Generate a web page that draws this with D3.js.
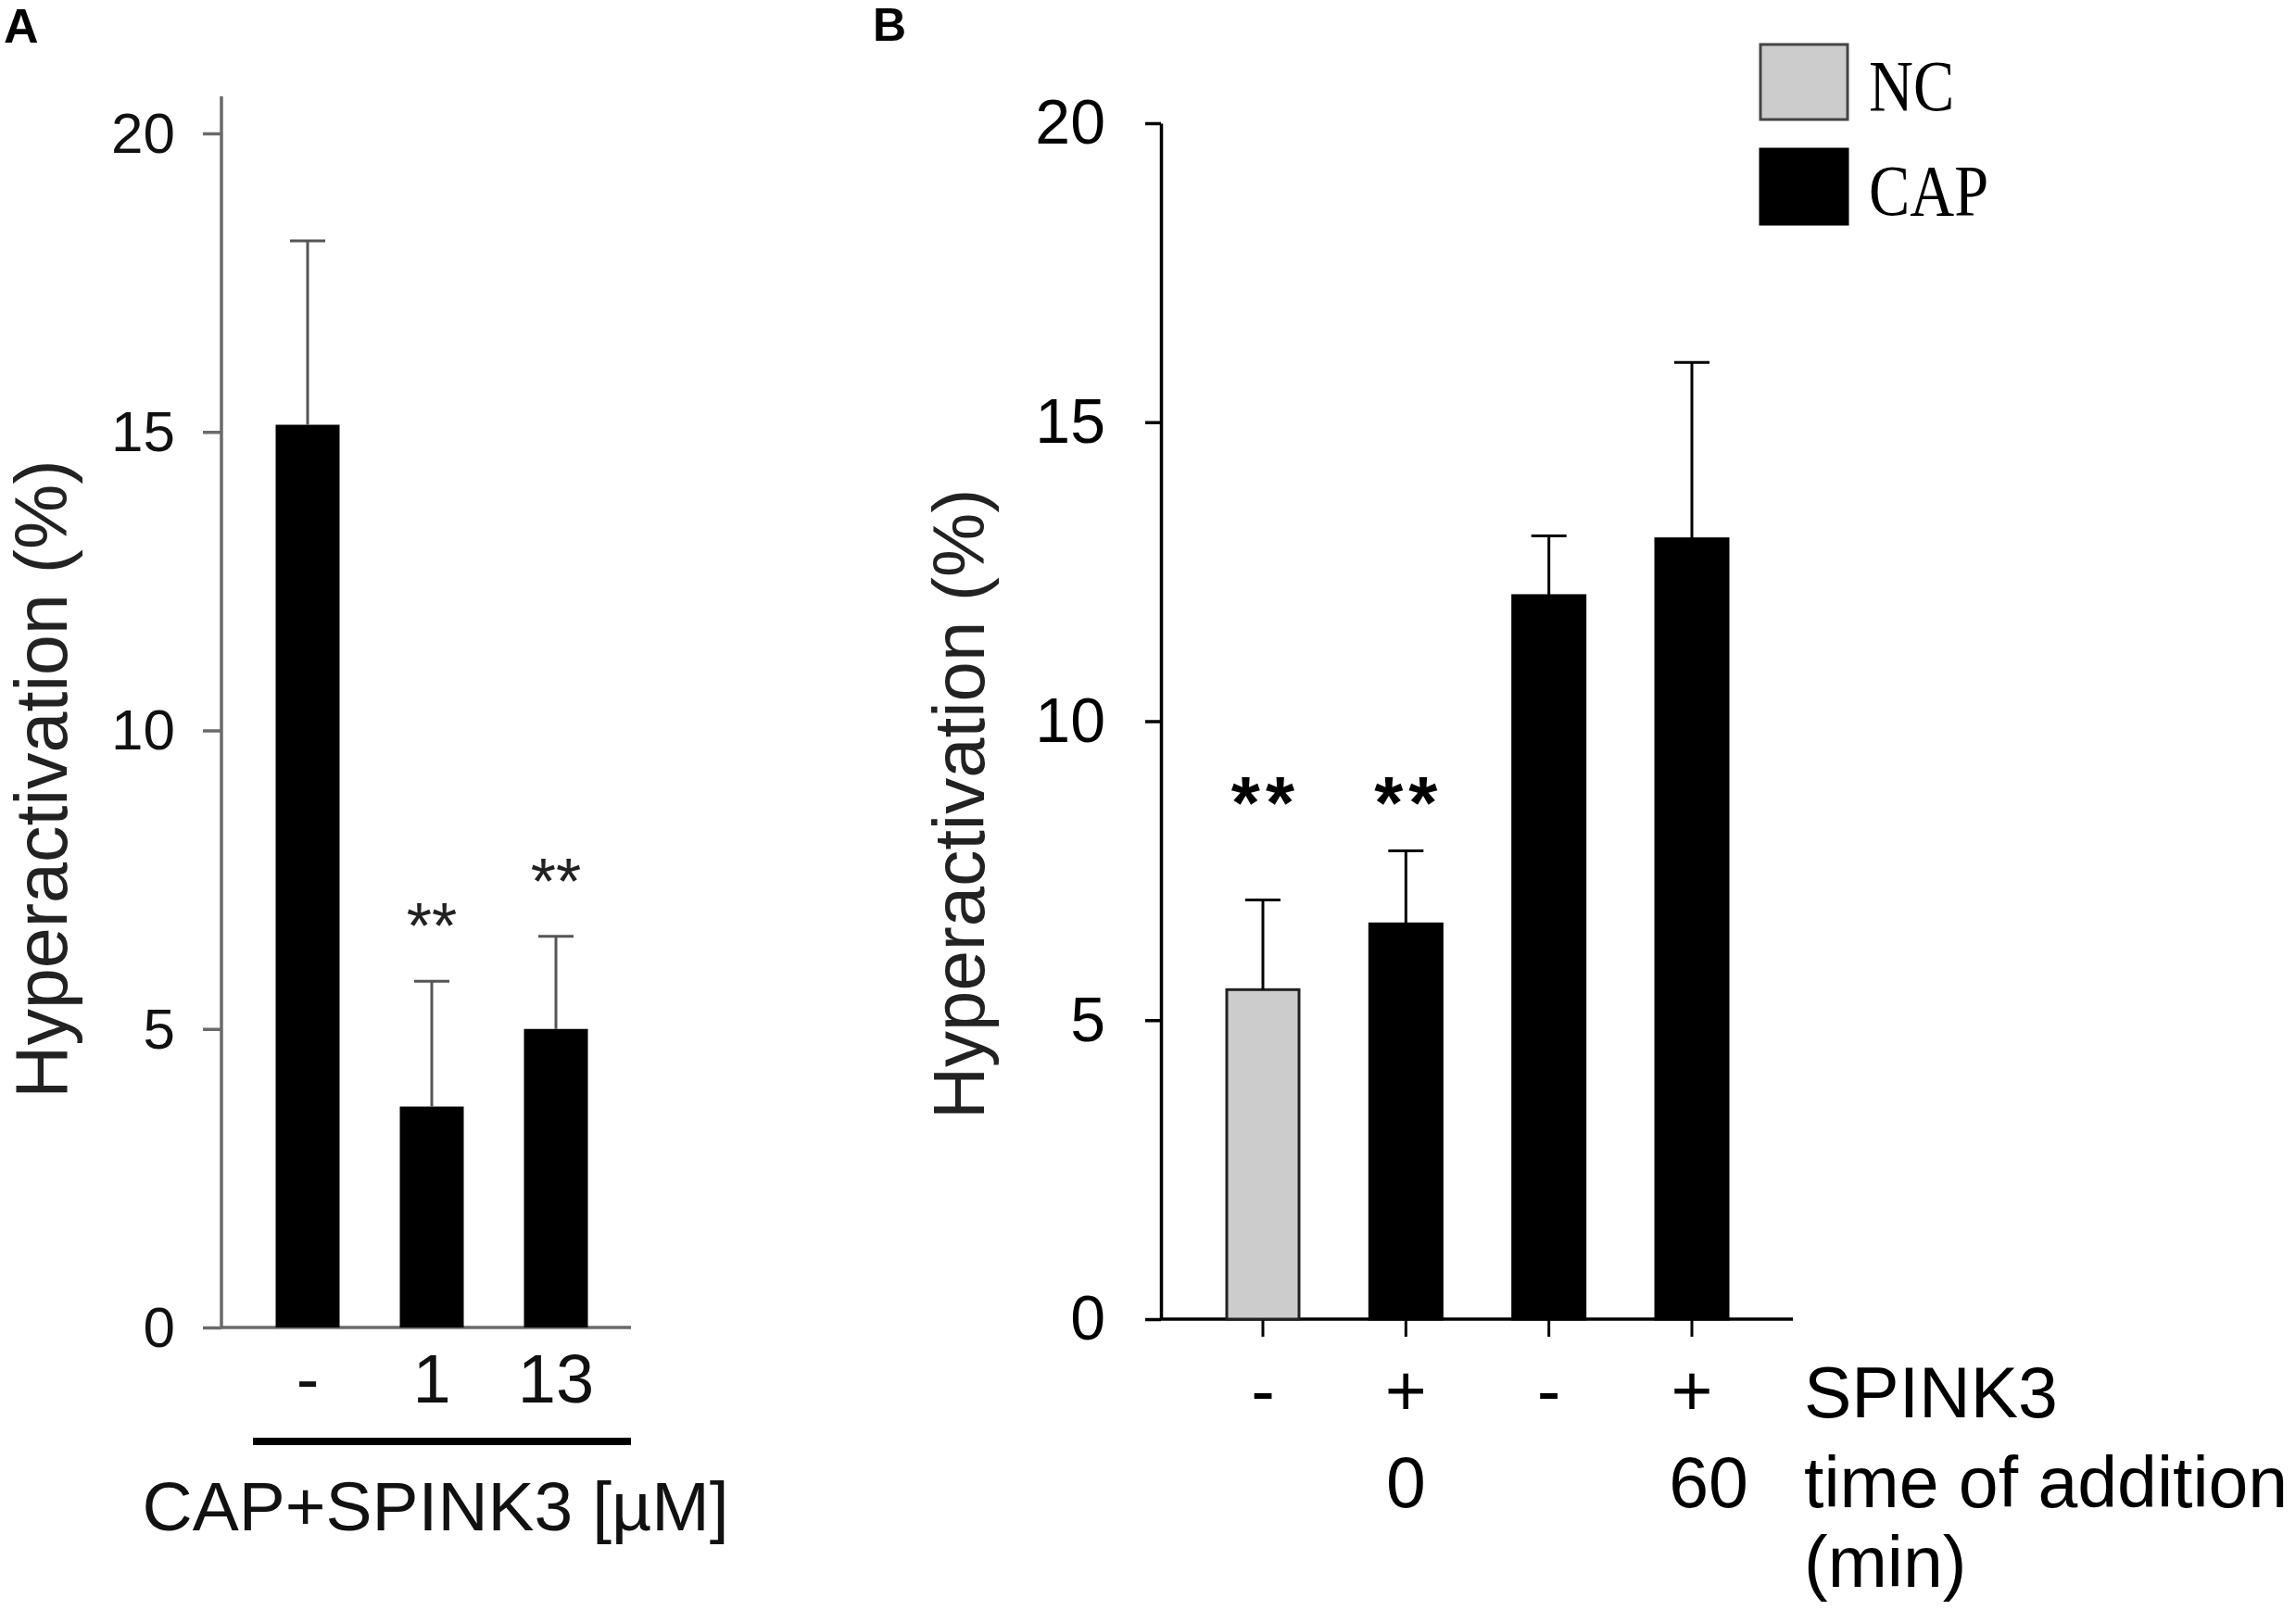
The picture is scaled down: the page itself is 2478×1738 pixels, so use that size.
<!DOCTYPE html>
<html>
<head>
<meta charset="utf-8">
<title>Hyperactivation - SPINK3</title>
<script src="https://cdn.jsdelivr.net/npm/d3@7"></script>
<style>
  body { margin: 0; background: #fff; }
  svg { display: block; font-family: "Liberation Sans", Arial, sans-serif; }
</style>
</head>
<body>
<div id="viz"></div>
<script>
// panel A data
var catsA = ["-", "1", "13"];
var meanA = [15.12, 3.7, 5.0];
var errA = [3.08, 2.1, 1.55];
var starsA = ["", "**", "**"];
var yTicks = [0, 5, 10, 15, 20];

// panel B data
var catsB = ["NC-", "CAP+0", "CAP-", "CAP+60"];
var groupB = ["NC", "CAP", "CAP", "CAP"];
var spinkB = ["-", "+", "-", "+"];
var timeB = ["", "0", "", "60"];
var meanB = [5.51, 6.61, 12.1, 13.05];
var errB = [1.5, 1.22, 1.0, 2.95];
var starsB = ["**", "**", "", ""];
var legendKeys = ["NC", "CAP"];

var fill = d3.scaleOrdinal().domain(legendKeys).range(["#cccccc", "#000000"]);

var svg = d3.select("#viz").append("svg")
    .attr("width", 2478).attr("height", 1738);
svg.append("rect").attr("width", 2478).attr("height", 1738).attr("fill", "#fff");

// ---------- panel A ----------
var gA = svg.append("g");
var yA = d3.scaleLinear().domain([0, 20]).range([1433, 144]);
var xA = d3.scalePoint().domain(catsA).range([332, 600]);
var bwA = 69;
var grayA = "#6a6a6a";

gA.append("text").attr("x", 4).attr("y", 46)
    .style("font-size", "52px").style("font-weight", "bold").text("A");

var axA = gA.append("g").attr("transform", "translate(239,0)")
    .call(d3.axisLeft(yA).tickValues(yTicks).tickSize(20).tickSizeOuter(0).tickPadding(30));
axA.select(".domain").remove();
axA.selectAll(".tick line").attr("stroke", grayA).attr("stroke-width", 3.5);
axA.selectAll(".tick text").attr("fill", "#111").attr("dy", "0.33em")
    .style("font-size", "62px").style("font-family", "Liberation Sans, Arial, sans-serif");
gA.append("line").attr("x1", 239).attr("x2", 239)
    .attr("y1", yA(0)).attr("y2", yA(20) - 40)
    .attr("stroke", grayA).attr("stroke-width", 3.5);
gA.append("line").attr("x1", 239).attr("x2", 681)
    .attr("y1", yA(0)).attr("y2", yA(0))
    .attr("stroke", grayA).attr("stroke-width", 3.5);

gA.selectAll(".bar").data(catsA).enter().append("rect")
    .attr("x", function(d) { return xA(d) - bwA / 2; })
    .attr("y", function(d, i) { return yA(meanA[i]); })
    .attr("width", bwA)
    .attr("height", function(d, i) { return yA(0) - yA(meanA[i]); })
    .attr("fill", "#000");

var ebA = gA.selectAll(".err").data(catsA).enter().append("g");
ebA.append("line")
    .attr("x1", function(d) { return xA(d); }).attr("x2", function(d) { return xA(d); })
    .attr("y1", function(d, i) { return yA(meanA[i]); })
    .attr("y2", function(d, i) { return yA(meanA[i] + errA[i]); })
    .attr("stroke", "#555").attr("stroke-width", 3);
ebA.append("line")
    .attr("x1", function(d) { return xA(d) - 19; }).attr("x2", function(d) { return xA(d) + 19; })
    .attr("y1", function(d, i) { return yA(meanA[i] + errA[i]); })
    .attr("y2", function(d, i) { return yA(meanA[i] + errA[i]); })
    .attr("stroke", "#555").attr("stroke-width", 3);

gA.selectAll(".star").data(catsA).enter().append("text")
    .attr("x", function(d) { return xA(d); })
    .attr("y", function(d, i) { return yA(meanA[i] + errA[i]) - 35; })
    .attr("text-anchor", "middle").style("font-size", "70px").attr("fill", "#222")
    .text(function(d, i) { return starsA[i]; });

gA.selectAll(".xlab").data(catsA).enter().append("text")
    .attr("x", function(d) { return xA(d); }).attr("y", 1514)
    .attr("text-anchor", "middle").style("font-size", "74px").attr("fill", "#111")
    .text(function(d) { return d; });

gA.append("rect").attr("x", 273).attr("y", 1552).attr("width", 408).attr("height", 8).attr("fill", "#000");
gA.append("text").attr("x", 470).attr("y", 1652).attr("text-anchor", "middle")
    .style("font-size", "75px").attr("fill", "#111").text("CAP+SPINK3 [µM]");
gA.append("text").attr("transform", "translate(72,841) rotate(-90)")
    .attr("text-anchor", "middle").style("font-size", "79px").attr("fill", "#222")
    .text("Hyperactivation (%)");

// ---------- panel B ----------
var gB = svg.append("g");
var yB = d3.scaleLinear().domain([0, 20]).range([1424, 133]);
var xB = d3.scalePoint().domain(catsB).range([1363, 1826]);
var bwB = 78;

gB.append("text").attr("x", 942).attr("y", 44)
    .style("font-size", "50px").style("font-weight", "bold").text("B");

var axB = gB.append("g").attr("transform", "translate(1253,0)")
    .call(d3.axisLeft(yB).tickValues(yTicks).tickSize(17).tickSizeOuter(0).tickPadding(43));
axB.select(".domain").attr("stroke", "#000").attr("stroke-width", 3.5);
axB.selectAll(".tick line").attr("stroke", "#000").attr("stroke-width", 3.5);
axB.selectAll(".tick text").attr("fill", "#000")
    .style("font-size", "68px").style("font-family", "Liberation Sans, Arial, sans-serif");
gB.append("line").attr("x1", 1253).attr("x2", 1935)
    .attr("y1", yB(0)).attr("y2", yB(0))
    .attr("stroke", "#000").attr("stroke-width", 3.5);
gB.selectAll(".xt").data(catsB).enter().append("line")
    .attr("x1", function(d) { return xB(d); }).attr("x2", function(d) { return xB(d); })
    .attr("y1", yB(0)).attr("y2", yB(0) + 19)
    .attr("stroke", "#000").attr("stroke-width", 3);

gB.selectAll(".bar").data(catsB).enter().append("rect")
    .attr("x", function(d) { return xB(d) - bwB / 2; })
    .attr("y", function(d, i) { return yB(meanB[i]); })
    .attr("width", bwB)
    .attr("height", function(d, i) { return yB(0) - yB(meanB[i]); })
    .attr("fill", function(d, i) { return fill(groupB[i]); })
    .attr("stroke", function(d, i) { return groupB[i] === "NC" ? "#222" : "#000"; })
    .attr("stroke-width", 3);

var ebB = gB.selectAll(".err").data(catsB).enter().append("g");
ebB.append("line")
    .attr("x1", function(d) { return xB(d); }).attr("x2", function(d) { return xB(d); })
    .attr("y1", function(d, i) { return yB(meanB[i]); })
    .attr("y2", function(d, i) { return yB(meanB[i] + errB[i]); })
    .attr("stroke", "#000").attr("stroke-width", 3);
ebB.append("line")
    .attr("x1", function(d) { return xB(d) - 19; }).attr("x2", function(d) { return xB(d) + 19; })
    .attr("y1", function(d, i) { return yB(meanB[i] + errB[i]); })
    .attr("y2", function(d, i) { return yB(meanB[i] + errB[i]); })
    .attr("stroke", "#000").attr("stroke-width", 3);

gB.selectAll(".star").data(catsB).enter().append("text")
    .attr("x", function(d) { return xB(d) + 3; }).attr("y", 894)
    .attr("text-anchor", "middle").style("font-size", "80px").style("font-weight", "bold")
    .style("letter-spacing", "6px")
    .text(function(d, i) { return starsB[i]; });

gB.selectAll(".spk").data(catsB).enter().append("text")
    .attr("x", function(d) { return xB(d); }).attr("y", 1528)
    .attr("text-anchor", "middle").style("font-size", "77px")
    .text(function(d, i) { return spinkB[i]; });
gB.selectAll(".tim").data(catsB).enter().append("text")
    .attr("x", function(d, i) { return xB(d) + (timeB[i] === "60" ? 18 : 0); }).attr("y", 1627)
    .attr("text-anchor", "middle").style("font-size", "77px")
    .text(function(d, i) { return timeB[i]; });
gB.append("text").attr("x", 1947).attr("y", 1530).style("font-size", "77px").text("SPINK3");
gB.append("text").attr("x", 1947).attr("y", 1627).style("font-size", "77px").text("time of addition");
gB.append("text").attr("x", 1947).attr("y", 1713).style("font-size", "77px").text("(min)");

gB.append("text").attr("transform", "translate(1062,868) rotate(-90)")
    .attr("text-anchor", "middle").style("font-size", "78px").attr("fill", "#222")
    .text("Hyperactivation (%)");

// legend
var leg = gB.selectAll(".leg").data(legendKeys).enter().append("g")
    .attr("transform", function(d, i) { return "translate(1900," + (48 + i * 113) + ")"; });
leg.append("rect").attr("width", 94).attr("height", 81)
    .attr("fill", function(d) { return fill(d); })
    .attr("stroke", function(d) { return d === "NC" ? "#444" : "#000"; })
    .attr("stroke-width", 3);
leg.append("text").attr("transform", "translate(117,71) scale(0.84,1)")
    .style("font-family", "Liberation Serif, Times New Roman, serif")
    .style("font-size", "79px")
    .text(function(d) { return d; });
</script>
</body>
</html>
